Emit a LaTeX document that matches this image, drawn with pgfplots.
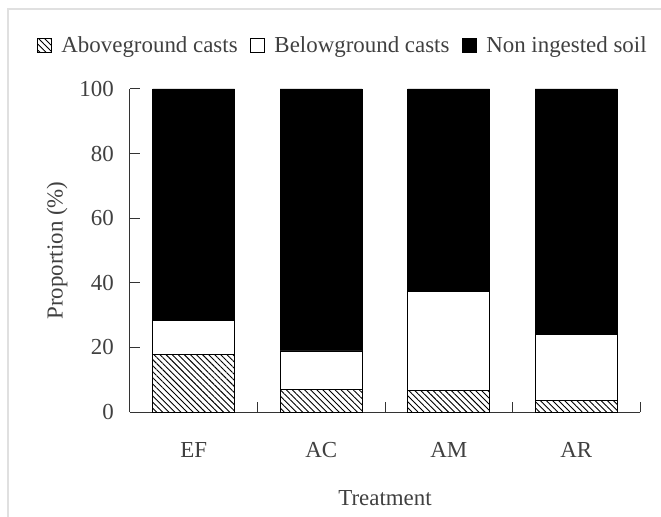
\documentclass[border=0pt]{standalone}
\usepackage{fontspec}
\setmainfont{Liberation Serif}
\usepackage{pgfplots}
\pgfplotsset{compat=1.18}
\usetikzlibrary{patterns.meta}

\pgfplotsset{
  boxlegend/.style={
    legend image code/.code={\draw[##1] (0bp,-7bp) rectangle (14bp,7bp);}
  }
}

\begin{document}
\begin{tikzpicture}[font=\fontsize{23}{27}\selectfont]
  \begin{axis}[
      at={(0,0)}, anchor=south west,
      scale only axis,
      width=510bp, height=323bp,
      ybar stacked,
      bar width=82bp,
      xmin=-0.5, xmax=3.5,
      ymin=0, ymax=100,
      axis lines*=left,
      axis line style={black!80, line width=1pt},
      xtick={0.5,1.5,2.5,3.5},
      xticklabels={},
      extra x ticks={0,1,2,3},
      extra x tick labels={EF,AC,AM,AR},
      extra x tick style={major tick length=0pt},
      ytick={0,20,40,60,80,100},
      tick align=inside,
      major tick length=10bp,
      tick style={black!80, line width=1pt},
      /pgf/number format/assume math mode=true,
      xticklabel style={anchor=base, yshift=-45bp, text=black!75},
      yticklabel style={anchor=east, inner sep=0pt, xshift=-16bp, text=black!75},
      xlabel={Treatment},
      ylabel={Proportion (\%)},
      xlabel style={at={(0.5,-0.266)}, anchor=center, text=black!75},
      ylabel style={at={(-0.143,0.5)}, anchor=center, text=black!75},
      legend columns=-1,
      legend style={draw=none, fill=none, at={(0.416,1.136)}, anchor=center,
        text=black!75, nodes={inner sep=1bp},
        /tikz/every odd column/.append style={column sep=9bp},
        /tikz/every even column/.append style={column sep=11bp}},
    ]
    \addplot[boxlegend, draw=black, line width=0.8pt,
      pattern={Lines[angle=-45, distance=4.3bp, line width=0.9bp]}]
      coordinates {(0,17.7) (1,7.1) (2,6.8) (3,3.7)};
    \addlegendentry{Aboveground casts}
    \addplot[boxlegend, draw=black, line width=0.8pt, fill=white]
      coordinates {(0,10.6) (1,11.8) (2,30.5) (3,20.2)};
    \addlegendentry{Belowground casts}
    \addplot[boxlegend, draw=black, line width=0.8pt, fill=black]
      coordinates {(0,71.7) (1,81.1) (2,62.7) (3,76.1)};
    \addlegendentry{Non ingested soil}
  \end{axis}
  \draw[black!12, line width=1.5bp] (-122bp,-110bp) -- (-122bp,403bp) -- (540bp,403bp);
  \pgfresetboundingbox
  \path[use as bounding box] (-130bp,-105bp) rectangle (531bp,412bp);
\end{tikzpicture}
\end{document}
